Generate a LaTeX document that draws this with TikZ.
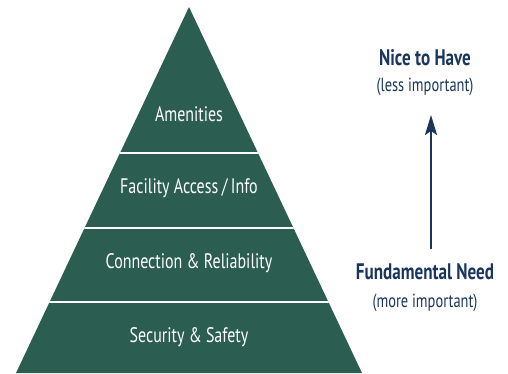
\documentclass[tikz,border=0pt]{standalone}
\usepackage{fontspec}
\setmainfont{PT Sans}[FakeStretch=0.76]
\usetikzlibrary{arrows.meta}
\definecolor{pyrgreen}{HTML}{2B5E50}
\definecolor{navy}{HTML}{1B365D}
\begin{document}
\begin{tikzpicture}[
        x=1pt, y=-1pt,
        level/.style={text=white, font=\fontsize{21}{24}\selectfont},
        title/.style={text=navy, font=\fontsize{22.5}{26}\selectfont\bfseries},
        note/.style={text=navy, font=\fontsize{19}{22}\selectfont},
        arrow/.style={-{Stealth[length=20pt, width=12pt, inset=4pt]}, line width=2pt, draw=navy}
    ]
        \useasboundingbox (0,0) rectangle (508,373);
        % Pyramid
        \begin{scope}
            \clip (0,0) rectangle (508,373);
            \fill[pyrgreen] (189,7) coordinate (apex) -- (16,373) -- (362,373) -- cycle;
        \end{scope}
        % Dividers
        \begin{scope}
            \clip (apex) -- (16,373) -- (362,373) -- cycle;
            \foreach \y in {153,228,302}
                \draw[white, line width=1.6pt] (0,\y) -- (400,\y);
        \end{scope}

        % Levels
        \node[level] (amen) at (189,114) {Amenities};
        \node[level] (fac) at (189,188) {Facility Access\,/\,Info};
        \node[level] (conn) at (189,263) {Connection \& Reliability};
        \node[level] (sec) at (189,337) {Security \& Safety};

        % Side labels
        \node[title] (nice) at (425,58) {Nice to Have};
        \node[note] (less) at (425,87) {(less important)};
        \node[title] (need) at (425,272) {Fundamental Need};
        \node[note] (more) at (425,303) {(more important)};

        % Arrow
        \coordinate (arrbot) at (431,249);
        \coordinate (arrtop) at (431,115);
        \draw[arrow] (arrbot) -- (arrtop);
    \end{tikzpicture}
\end{document}
